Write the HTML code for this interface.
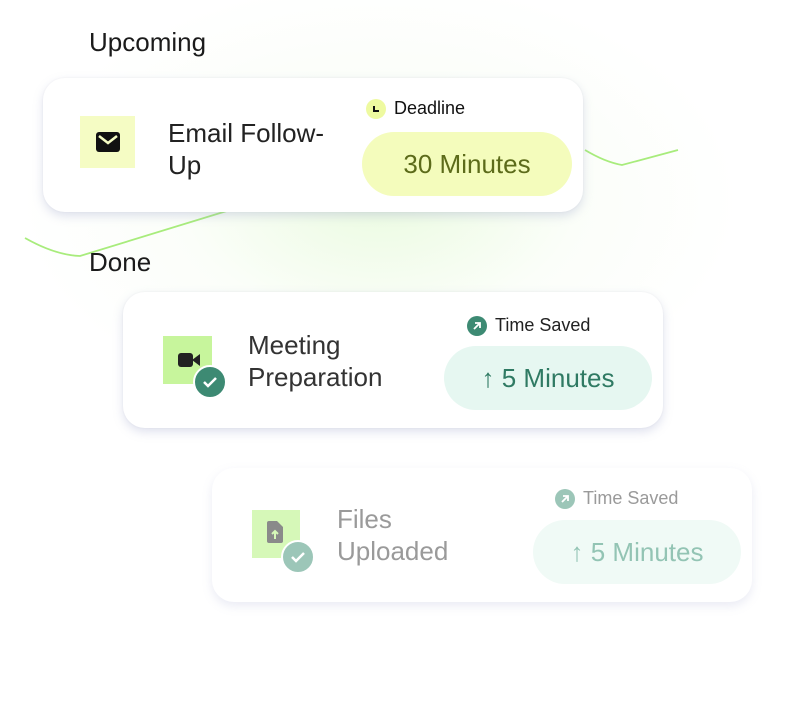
<!DOCTYPE html>
<html><head><meta charset="utf-8"><style>
body{margin:0;width:808px;height:708px;background:#fff;position:relative;overflow:hidden;font-family:"Liberation Sans",sans-serif;}
.abs{position:absolute}
.card{position:absolute;background:#fff;border-radius:22px;box-shadow:0 4px 10px rgba(150,155,200,.3),0 0 2px rgba(0,0,0,.05);}
.lbl{position:absolute;font-size:26px;color:#1b1b1b}
.title{position:absolute;font-size:26px;line-height:32px;color:#222}
.pill{position:absolute;border-radius:32px;font-size:26px;display:flex;align-items:center;justify-content:center}
.small{position:absolute;font-size:18px;display:flex;align-items:center;gap:8px}
.dot{width:20px;height:20px;border-radius:50%;display:inline-flex;align-items:center;justify-content:center}
</style></head><body>
<div class="abs" style="left:-60px;top:-40px;width:900px;height:520px;background:radial-gradient(ellipse 360px 220px at 440px 240px,rgba(205,245,180,.4),rgba(235,250,225,.2) 55%,rgba(255,255,255,0) 100%)"></div>
<svg class="abs" style="left:0;top:0" width="808" height="708"><path d="M25 238 Q55 255 80 256 L230 210 M585 150 Q605 162 622 165 L678 150" stroke="#a8ec7c" stroke-width="1.8" fill="none"/></svg>
<div class="lbl" style="left:89px;top:27px">Upcoming</div>
<div class="lbl" style="left:89px;top:247px">Done</div>

<div class="card" style="left:43px;top:78px;width:540px;height:134px">
 <div class="abs" style="left:37px;top:38px;width:55px;height:52px;background:#f5fcc4"></div>
 <svg class="abs" style="left:52px;top:53px" width="26" height="22" viewBox="0 0 26 22"><rect x="1" y="1" width="24" height="20" rx="3" fill="#111"/><path d="M4 5 L13 12 L22 5" stroke="#f5fcc4" stroke-width="2.5" fill="none"/></svg>
 <div class="title" style="left:125px;top:39px">Email Follow-<br>Up</div>
 <div class="small" style="left:323px;top:20px;color:#111"><span class="dot" style="background:#eefaa0"><svg width="10" height="10"><path d="M3 2 V7 H8" stroke="#111" stroke-width="2" fill="none"/></svg></span>Deadline</div>
 <div class="pill" style="left:319px;top:54px;width:210px;height:64px;background:#f4fcbc;color:#5c6b1a">30 Minutes</div>
</div>

<div class="card" style="left:123px;top:292px;width:540px;height:136px">
 <div class="abs" style="left:40px;top:44px;width:49px;height:48px;background:#c7f59c"></div>
 <svg class="abs" style="left:54px;top:59px" width="24" height="18"><rect x="1" y="2" width="15" height="14" rx="3" fill="#222"/><path d="M15 9 L23 3 V15 Z" fill="#222"/></svg>
 <div class="abs dot" style="left:72px;top:75px;width:30px;height:30px;background:#3d8a73;border:2px solid #fff;margin:-2px"><svg width="16" height="14"><path d="M2 7 L6 11 L14 3" stroke="#fff" stroke-width="2.5" fill="none"/></svg></div>
 <div class="title" style="left:125px;top:37px;color:#333">Meeting<br>Preparation</div>
 <div class="small" style="left:344px;top:23px;color:#222"><span class="dot" style="background:#3d8a73"><svg width="10" height="10"><path d="M2 8 L8 2 M3 2 H8 V7" stroke="#fff" stroke-width="1.8" fill="none"/></svg></span>Time Saved</div>
 <div class="pill" style="left:321px;top:54px;width:208px;height:64px;background:#e6f7f1;color:#2f7a63">↑ 5 Minutes</div>
</div>

<div class="card" style="left:212px;top:468px;width:540px;height:134px;box-shadow:0 4px 10px rgba(150,155,200,.2)">
 <div class="abs" style="left:40px;top:42px;width:48px;height:48px;background:#d6f8b8"></div>
 <svg class="abs" style="left:54px;top:52px" width="18" height="24"><path d="M1 3 Q1 1 3 1 H11 L17 7 V21 Q17 23 15 23 H3 Q1 23 1 21 Z" fill="#8a8a8a"/><path d="M9 19 V12 M6 14 L9 11 L12 14" stroke="#d6f8b8" stroke-width="2" fill="none"/></svg>
 <div class="abs dot" style="left:71px;top:74px;width:30px;height:30px;background:#9cc6b8;border:2px solid #fff;margin:-2px"><svg width="16" height="14"><path d="M2 7 L6 11 L14 3" stroke="#fff" stroke-width="2.5" fill="none"/></svg></div>
 <div class="title" style="left:125px;top:35px;color:#9a9a9a">Files<br>Uploaded</div>
 <div class="small" style="left:343px;top:20px;color:#9a9a9a"><span class="dot" style="background:#9cc6b8"><svg width="10" height="10"><path d="M2 8 L8 2 M3 2 H8 V7" stroke="#fff" stroke-width="1.8" fill="none"/></svg></span>Time Saved</div>
 <div class="pill" style="left:321px;top:52px;width:208px;height:64px;background:#f0faf6;color:#93c4b4">↑ 5 Minutes</div>
</div>
</body></html>
